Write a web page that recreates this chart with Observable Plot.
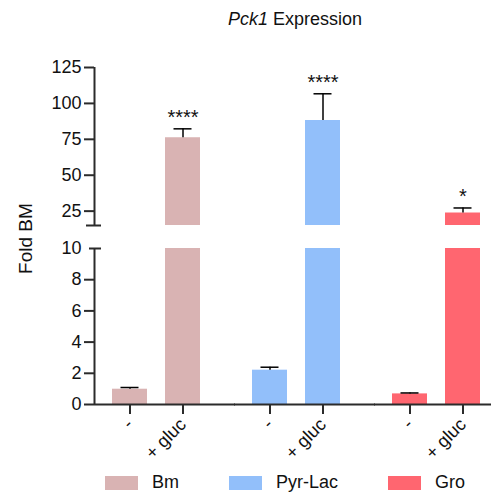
<!DOCTYPE html>
<html>
<head>
<meta charset="utf-8">
<script src="https://cdn.jsdelivr.net/npm/d3@7"></script>
<script src="https://cdn.jsdelivr.net/npm/@observablehq/plot@0.6"></script>
<style>
  html, body { margin: 0; padding: 0; background: #fff; overflow: hidden; }
  body { font-family: "Liberation Sans", Arial, sans-serif; color: #111; }
  #wrap { position: relative; width: 491px; height: 493px; overflow: hidden; }
  #upper, #lower, #title, #ylabel, #legend { position: absolute; }
  #upper { left: 0; top: 0; }
  #lower { left: 0; top: 236px; }
  #title { left: 95px; width: 400px; top: 9px; text-align: center; font-size: 18px; line-height: 20px; }
  #ylabel { left: -35.5px; top: 227px; width: 120px; height: 23px; line-height: 23px; text-align: center;
            font-size: 19px; transform: rotate(-90deg); }
  #legend { left: 105px; top: 472px; width: 420px; }
  #legend .lg-swatches, #legend .lg-swatches-wrap { font-family: "Liberation Sans", Arial, sans-serif !important;
            font-size: 18px !important; margin: 0 !important; min-height: 0 !important; color: #111;
            flex-wrap: nowrap !important; }
  #legend .lg-swatch { margin-right: 50px !important; line-height: 21px; white-space: nowrap; }
  #legend .lg-swatch > svg { margin-right: 14px !important; }
</style>
</head>
<body>
<div id="wrap">
  <div id="title"><i>Pck1</i> Expression</div>
  <div id="ylabel">Fold BM</div>
  <div id="upper"></div>
  <div id="lower"></div>
  <div id="legend"></div>
</div>
<script>
// ---- data ----
const groups = ["Bm", "Pyr-Lac", "Gro"];
const conditions = ["-", "+ gluc"];
const colors = ["#D9B3B3", "#92BFFA", "#FF6670"];
const means = [[0.98, 76.1], [2.2, 88.1], [0.68, 23.7]];
const sems = [[0.11, 6.2], [0.19, 18.6], [0.06, 3.5]];
const stars = [["", "****"], ["", "****"], ["", "*"]];
const upperTicks = [25, 50, 75, 100, 125];
const lowerTicks = [0, 2, 4, 6, 8];
const lowerTopTick = [10];
const upperDomain = [15, 125];
const lowerDomain = [0, 10];

const rows = [];
groups.forEach((g, i) => conditions.forEach((c, j) => rows.push({
  group: g, cond: c, mean: means[i][j], upper: means[i][j] + sems[i][j], star: stars[i][j]
})));

const FONT = "Liberation Sans, Arial, sans-serif";
const AX = "#2b2b2b";
const W = 491;
const TICK_FS = 18;

const common = {
  width: W, marginLeft: 93, marginRight: 0,
  fx: {domain: groups, axis: null, paddingInner: 23.5 / 140.5, paddingOuter: 0},
  color: {domain: groups, range: colors},
  style: {background: "transparent", fontFamily: FONT, overflow: "visible"}
};
const xScale = {domain: conditions, paddingInner: 0.34, paddingOuter: 0, insetLeft: 17.5, insetRight: 11.5};

const dataMarks = () => [
  Plot.barY(rows, {fx: "group", x: "cond", y: "mean", fill: "group", clip: true}),
  Plot.ruleX(rows, {fx: "group", x: "cond", y1: "mean", y2: "upper", stroke: "#000", strokeWidth: 1.5, clip: true}),
  Plot.tickY(rows, {fx: "group", x: "cond", y: "upper", stroke: "#000", strokeWidth: 1.5, inset: 8.5, clip: true})
];
const yLine = () => Plot.ruleX([{group: groups[0]}], {fx: "group", x: null, dx: -58.5, stroke: AX, strokeWidth: 2});
const cap = (v, left) => Plot.tickY([{group: groups[0], v}], {fx: "group", y: "v", insetLeft: left, insetRight: 110, stroke: AX, strokeWidth: 2});

const upper = Plot.plot({
  ...common,
  height: 236, marginTop: 67, marginBottom: 11,
  x: {...xScale, axis: null},
  y: {domain: upperDomain, axis: null},
  marks: [
    ...dataMarks(),
    Plot.text(rows.filter(d => d.star), {fx: "group", x: "cond", y: "upper", text: "star", dy: -11, fontSize: 20, fill: "#111"}),
    yLine(),
    Plot.axisY({ticks: upperTicks, tickSize: 10, tickPadding: 3, strokeWidth: 2, stroke: AX, fill: "#111", fontSize: TICK_FS, label: null}),
    cap(15, -8)
  ]
});
document.getElementById("upper").append(upper);

const lower = Plot.plot({
  ...common,
  height: 257, marginTop: 12, marginBottom: 89,
  x: {...xScale},
  y: {domain: lowerDomain},
  marks: [
    ...dataMarks(),
    yLine(),
    Plot.ruleY([0], {stroke: AX, strokeWidth: 2, insetRight: -24}),
    Plot.axisY({ticks: lowerTicks, tickSize: 10, tickPadding: 3, strokeWidth: 2, stroke: AX, fill: "#111", fontSize: TICK_FS, label: null}),
    Plot.axisY({ticks: lowerTopTick, tickSize: 0, tickPadding: 13, fill: "#111", fontSize: TICK_FS, label: null}),
    cap(10, -5),
    Plot.axisX({tickSize: 10, tickPadding: 7, tickRotate: -45, strokeWidth: 2, stroke: AX, fill: "#111", fontSize: TICK_FS, label: null})
  ]
});
document.getElementById("lower").append(lower);

const legend = Plot.legend({
  color: {domain: groups, range: colors},
  legend: "swatches", swatchWidth: 33, swatchHeight: 14, className: "lg"
});
document.getElementById("legend").append(legend);
</script>
</body>
</html>
